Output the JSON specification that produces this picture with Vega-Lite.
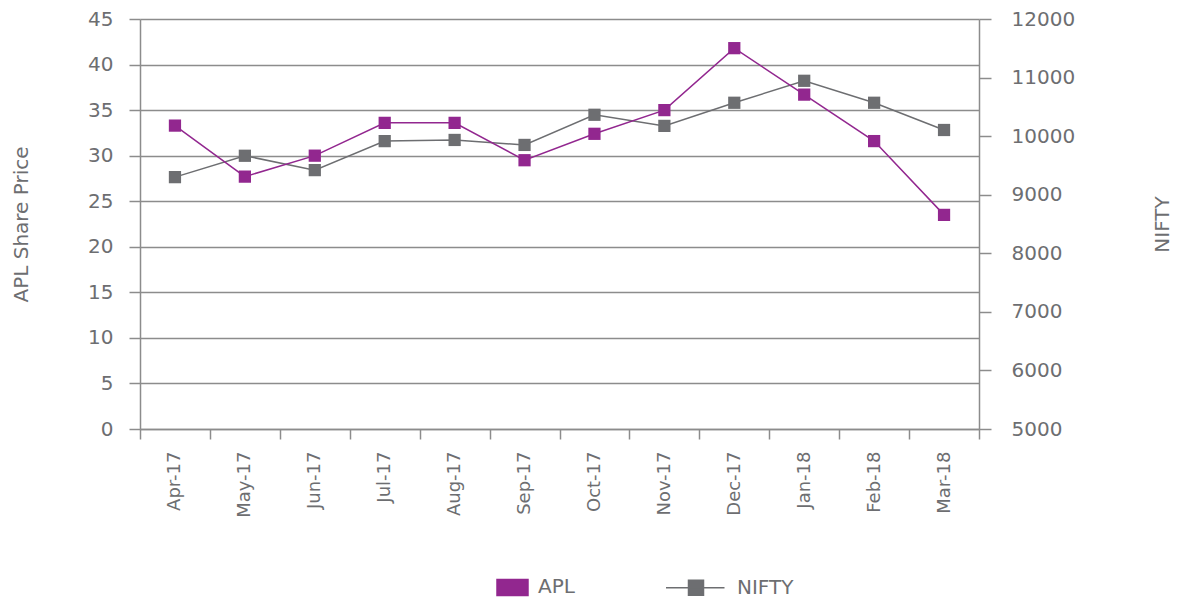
{
  "$schema": "https://vega.github.io/schema/vega-lite/v6.json",
  "width": 839,
  "height": 410,
  "autosize": "none",
  "padding": {"left": 140, "top": 19, "right": 202, "bottom": 169},
  "config": {
    "font": "DejaVu Sans",
    "view": {"stroke": null},
    "axis": {
      "labelColor": "#6d6e71",
      "titleColor": "#6d6e71",
      "labelFontSize": 20,
      "titleFontSize": 20,
      "titleFontWeight": "normal",
      "domainColor": "#8c8c8c",
      "domainWidth": 1.5,
      "tickColor": "#8c8c8c",
      "tickWidth": 1.5,
      "gridColor": "#8c8c8c",
      "gridWidth": 1.5
    }
  },
  "data": {
    "values": [
      {"month": "Apr-17", "APL": 33.3, "NIFTY": 9300},
      {"month": "May-17", "APL": 27.7, "NIFTY": 9665},
      {"month": "Jun-17", "APL": 30.0, "NIFTY": 9420},
      {"month": "Jul-17", "APL": 33.6, "NIFTY": 9915},
      {"month": "Aug-17", "APL": 33.6, "NIFTY": 9935},
      {"month": "Sep-17", "APL": 29.5, "NIFTY": 9850},
      {"month": "Oct-17", "APL": 32.4, "NIFTY": 10365},
      {"month": "Nov-17", "APL": 35.0, "NIFTY": 10175},
      {"month": "Dec-17", "APL": 41.8, "NIFTY": 10570},
      {"month": "Jan-18", "APL": 36.7, "NIFTY": 10945},
      {"month": "Feb-18", "APL": 31.6, "NIFTY": 10570},
      {"month": "Mar-18", "APL": 23.5, "NIFTY": 10105}
    ]
  },
  "encoding": {
    "x": {
      "field": "month",
      "type": "ordinal",
      "sort": null,
      "scale": {"type": "band", "paddingInner": 0, "paddingOuter": 0},
      "axis": {
        "title": null,
        "tickBand": "extent",
        "tickSize": 10,
        "labelAngle": -90,
        "labelAlign": "right",
        "labelBaseline": "middle",
        "labelPadding": 12,
        "labelFontSize": 18,
        "grid": false
      }
    }
  },
  "layer": [
    {
      "encoding": {
        "y": {
          "field": "NIFTY",
          "type": "quantitative",
          "scale": {"domain": [5000, 12000], "nice": false, "zero": false},
          "axis": {
            "orient": "right",
            "title": "NIFTY",
            "values": [5000, 6000, 7000, 8000, 9000, 10000, 11000, 12000],
            "format": "d",
            "grid": false,
            "tickSize": 12,
            "labelPadding": 20,
            "titleAngle": -90,
            "titlePadding": 98
          }
        },
        "color": {"datum": "NIFTY"}
      },
      "layer": [
        {"mark": {"type": "line", "strokeWidth": 1.5, "color": "#77787b"}},
        {"mark": {"type": "point", "shape": "square", "filled": true, "size": 150, "opacity": 1, "color": "#6d6e71"}}
      ]
    },
    {
      "encoding": {
        "y": {
          "field": "APL",
          "type": "quantitative",
          "scale": {"domain": [0, 45], "nice": false},
          "axis": {
            "orient": "left",
            "title": "APL Share Price",
            "values": [0, 5, 10, 15, 20, 25, 30, 35, 40, 45],
            "grid": true,
            "tickSize": 11,
            "labelPadding": 16,
            "titlePadding": 56
          }
        },
        "color": {
          "datum": "APL",
          "scale": {"domain": ["APL", "NIFTY"], "range": ["#92278f", "#6d6e71"]},
          "legend": {
            "title": null,
            "orient": "none",
            "direction": "horizontal",
            "legendX": 326,
            "legendY": 537,
            "symbolSize": 3600,
            "labelOffset": 10,
            "columnPadding": 88,
            "labelFontSize": 20,
            "labelColor": "#6d6e71",
            "labelFont": "DejaVu Sans",
            "encode": {
              "symbols": {
                "update": {
                  "shape": {"signal": "datum.value === 'APL' ? 'M0,-0.267H1.033V0.267H0Z' : 'M-1,0H0.95M-0.25,-0.25H0.25V0.25H-0.25Z'"},
                  "fill": {"signal": "datum.value === 'APL' ? '#92278f' : '#6d6e71'"},
                  "stroke": {"signal": "datum.value === 'APL' ? '#92278f' : '#77787b'"},
                  "strokeWidth": {"value": 1.5},
                  "opacity": {"value": 1},
                  "fillOpacity": {"value": 1},
                  "strokeOpacity": {"value": 1},
                  "size": {"value": 3600}
                }
              }
            }
          }
        }
      },
      "layer": [
        {"mark": {"type": "line", "strokeWidth": 1.5, "color": "#92278f"}},
        {"mark": {"type": "point", "shape": "square", "filled": true, "size": 150, "opacity": 1, "color": "#92278f"}}
      ]
    }
  ],
  "resolve": {"scale": {"y": "independent"}}
}
